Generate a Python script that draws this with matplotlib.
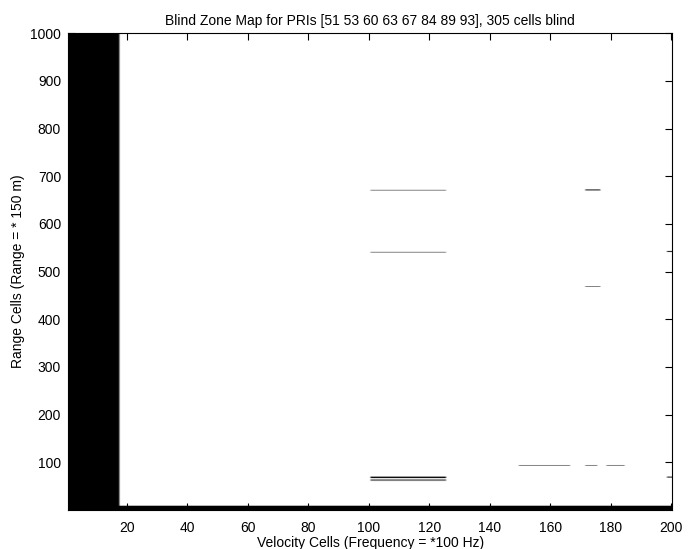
import numpy as np
import matplotlib
matplotlib.use('Agg')
import matplotlib.pyplot as plt

plt.rcParams['font.family'] = ['Liberation Sans', 'DejaVu Sans']

n_vel = 200
n_rng = 1000

# blind segments: range row, first and last velocity cell
seg_rows = [68, 69, 70, 64, 62, 541, 671, 94, 94, 94, 671, 672, 469, 542, 543, 69, 70]
seg_start = [101, 101, 101, 101, 101, 101, 101, 150, 172, 179, 172, 172, 172, 199, 199, 199, 199]
seg_end = [125, 125, 125, 125, 125, 125, 125, 166, 175, 184, 176, 176, 176, 200, 200, 200, 200]

blind_vel_cols = 17   # low velocity cells, all ranges
blind_rng_rows = 9    # short range cells, all velocities

grid = np.ones((n_rng, n_vel))
grid[:, :blind_vel_cols] = 0
grid[:blind_rng_rows, :] = 0
for r, a, b in zip(seg_rows, seg_start, seg_end):
    grid[r - 1, a - 1:b] = 0

fig = plt.figure(figsize=(6.96, 5.49), dpi=100)
ax = fig.add_axes([0.0977, 0.0716, 0.8685, 0.8683])

ax.imshow(grid, cmap='gray', vmin=0, vmax=1, origin='lower',
          extent=(0.5, n_vel + 0.5, 0.5, n_rng + 0.5), aspect='auto',
          interpolation='antialiased')

ax.set_xticks(range(20, 201, 20))
ax.set_yticks(range(100, 1001, 100))
ax.tick_params(direction='in', top=True, right=True, labelsize=10, length=5)
ax.tick_params(axis='x', pad=8)
ax.tick_params(axis='y', pad=5)
for s in ax.spines.values():
    s.set_linewidth(0.8)

ax.set_title('Blind Zone Map for PRIs [51 53 60 63 67 84 89 93], 305 cells blind',
             fontsize=10, pad=6)
ax.set_xlabel('Velocity Cells (Frequency = *100 Hz)', fontsize=10, labelpad=1)
ax.set_ylabel('Range Cells (Range = * 150 m)', fontsize=10, labelpad=4)

fig.savefig('out.png', dpi=100)
